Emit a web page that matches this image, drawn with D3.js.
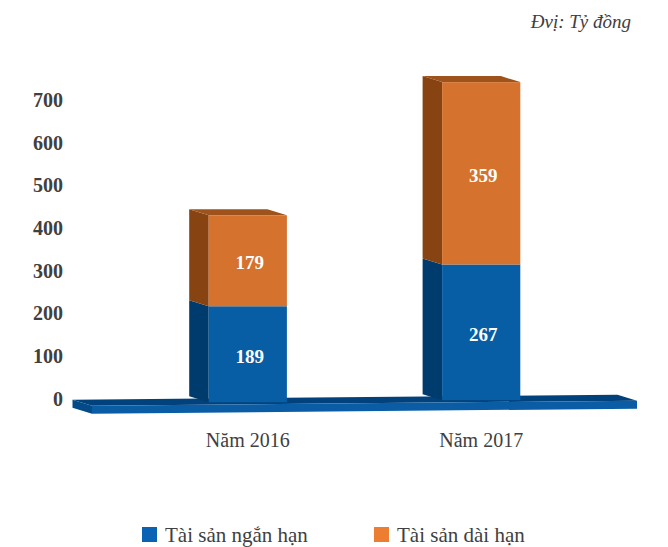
<!DOCTYPE html>
<html lang="vi">
<head>
  <meta charset="UTF-8">
  <title>Tài sản</title>
  <style>
    body { margin: 0; background: #fff; }
    svg { display: block; }
    text { font-family: 'Liberation Serif', 'DejaVu Serif', serif; }
  </style>
</head>
<body>
  <div id="chart"></div>

  <script src="https://d3js.org/d3.v7.min.js"></script>

  <script>
    // data
    const categories = ["Năm 2016", "Năm 2017"];
    const seriesNames = ["Tài sản ngắn hạn", "Tài sản dài hạn"];
    const shortTerm = [189, 267];
    const longTerm = [179, 359];
    const yTicks = [0, 100, 200, 300, 400, 500, 600, 700];

    const width = 668;
    const height = 547;
    const depth = { dx: -19.5, dy: -6 };

    const rows = categories.map((c, i) => ({ cat: c, s0: shortTerm[i], s1: longTerm[i] }));
    const stacked = d3.stack().keys(["s0", "s1"])(rows);

    const front = ["#075ea5", "#d4722e"];
    const side = ["#003b6e", "#874412"];
    const topFace = ["#044a86", "#9d531b"];
    const legendCol = ["#0a62b4", "#ed7d31"];

    const svg = d3.select("#chart").append("svg")
      .attr("width", width)
      .attr("height", height);

    // x along floor front edge
    const x = d3.scaleBand()
      .domain(categories)
      .range([92, 637])
      .paddingInner(0.665)
      .paddingOuter(0.5);

    // floor front-top edge (slight perspective tilt)
    const floorY = d3.scaleLinear().domain([92, 637]).range([405.7, 400.7]);
    const floorThick = 8;

    // bar heights and axis label positions
    const yBar = d3.scaleLinear().domain([0, 700]).range([0, 355.6]);
    const yAxis = d3.scaleLinear().domain([0, 700]).range([398.5, 100]);

    const pts = p => p.map(d => d.join(",")).join(" ");

    // floor
    const fx0 = x.range()[0], fx1 = x.range()[1];
    const fl0 = floorY(fx0), fl1 = floorY(fx1);
    svg.append("polygon") // top
      .attr("points", pts([[fx0 + depth.dx, fl0 + depth.dy], [fx1 + depth.dx, fl1 + depth.dy], [fx1, fl1], [fx0, fl0]]))
      .attr("fill", "#02427c");
    svg.append("polygon") // left end
      .attr("points", pts([[fx0 + depth.dx, fl0 + depth.dy], [fx0, fl0], [fx0, fl0 + floorThick], [fx0 + depth.dx, fl0 + depth.dy + floorThick]]))
      .attr("fill", "#034a88");
    svg.append("polygon") // front
      .attr("points", pts([[fx0, fl0], [fx1, fl1], [fx1, fl1 + floorThick], [fx0, fl0 + floorThick]]))
      .attr("fill", "#0a5da5");

    // bars
    stacked.forEach((layer, si) => {
      layer.forEach(d => {
        const cat = d.data.cat;
        const x0 = x(cat), x1 = x(cat) + x.bandwidth();
        const base = floorY(x0 + x.bandwidth() / 2) - 2;
        const yb = base - yBar(d[0]);
        const yt = base - yBar(d[1]);
        const g = svg.append("g");
        g.append("polygon")
          .attr("points", pts([[x0 + depth.dx, yt + depth.dy], [x0, yt], [x0, yb], [x0 + depth.dx, yb + depth.dy]]))
          .attr("fill", side[si]);
        g.append("rect")
          .attr("x", x0).attr("y", yt)
          .attr("width", x.bandwidth()).attr("height", yb - yt)
          .attr("fill", front[si]);
        if (si === stacked.length - 1) {
          g.append("polygon")
            .attr("points", pts([[x0 + depth.dx, yt + depth.dy], [x1 + depth.dx, yt + depth.dy], [x1, yt], [x0, yt]]))
            .attr("fill", topFace[si]);
        }
        g.append("text")
          .attr("x", (x0 + x1) / 2 + 2)
          .attr("y", (yt + yb) / 2 + 2)
          .attr("dy", "0.35em")
          .attr("text-anchor", "middle")
          .style("font-size", "19px")
          .style("font-weight", "bold")
          .style("fill", "#fff")
          .text(d[1] - d[0]);
      });
    });

    // y labels
    svg.append("g").selectAll("text")
      .data(yTicks)
      .join("text")
      .attr("x", 63)
      .attr("y", d => yAxis(d))
      .attr("dy", "0.35em")
      .attr("text-anchor", "end")
      .style("font-size", "20px")
      .style("font-weight", "bold")
      .style("fill", "#404040")
      .text(d => d);

    // category labels
    svg.append("g").selectAll("text")
      .data(categories)
      .join("text")
      .attr("x", d => x(d) + x.bandwidth() / 2)
      .attr("y", 447)
      .attr("text-anchor", "middle")
      .style("font-size", "20px")
      .style("fill", "#404040")
      .text(d => d);

    // unit note
    svg.append("text")
      .attr("x", 631)
      .attr("y", 28)
      .attr("text-anchor", "end")
      .style("font-size", "19px")
      .style("font-style", "italic")
      .style("fill", "#404040")
      .text("Đvị: Tỷ đồng");

    // legend
    const legendX = [142, 374];
    const legend = svg.append("g").selectAll("g")
      .data(seriesNames)
      .join("g")
      .attr("transform", (d, i) => `translate(${legendX[i]},527)`);
    legend.append("rect")
      .attr("width", 15).attr("height", 15)
      .attr("fill", (d, i) => legendCol[i]);
    legend.append("text")
      .attr("x", 23).attr("y", 15)
      .style("font-size", "21px")
      .style("fill", "#404040")
      .text(d => d);
  </script>
</body>
</html>
